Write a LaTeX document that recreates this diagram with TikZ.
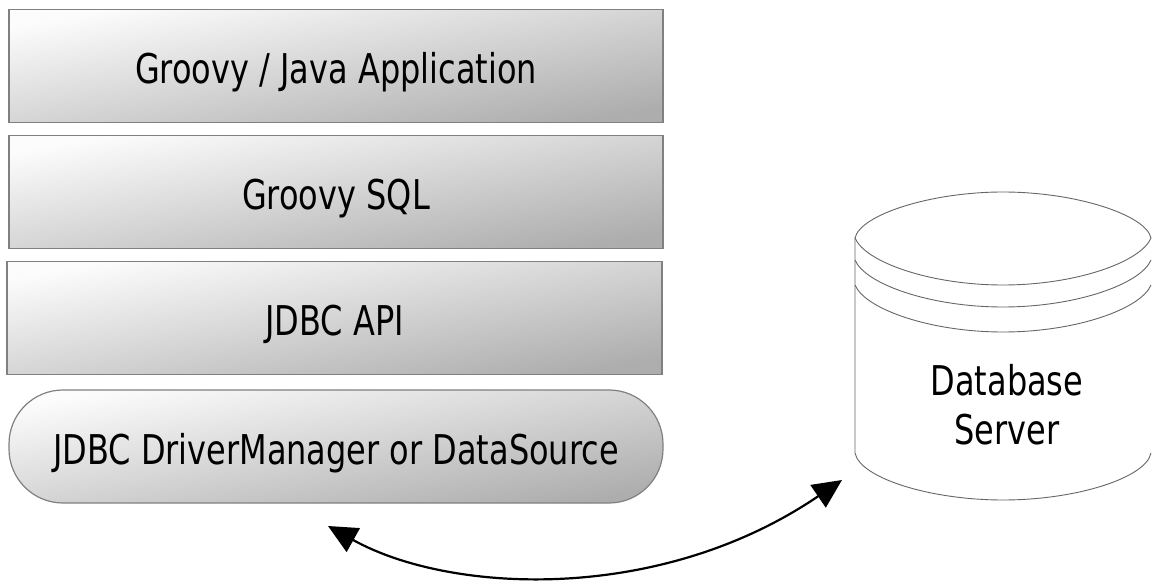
\documentclass[tikz,border=0pt]{standalone}
\usepackage{fontspec}
\setmainfont[FakeStretch=0.78]{DejaVu Sans}
\usetikzlibrary{arrows.meta}
\tikzset{
    layerbox/.style={draw=black!50, line width=1.2pt,
        top color=black!1, bottom color=black!32, shading angle=10, font=\fontsize{41}{44}\selectfont,
        minimum height=113pt, inner sep=0pt, text height=36pt, text depth=0pt, anchor=center},
    dbline/.style={draw=black!60, line width=0.9pt},
    dblabel/.style={font=\fontsize{41}{49}\selectfont, align=center},
    linkarrow/.style={line width=2.2pt, {Triangle[length=29pt,width=27pt]}-{Triangle[length=29pt,width=27pt]}}
}
\begin{document}
\begin{tikzpicture}[x=1pt,y=-1pt]
    \useasboundingbox (0,0) rectangle (1152,585);

    % Stacked layers
    \node[layerbox, minimum width=654pt] (app) at (336,66) {Groovy / Java Application};
    \node[layerbox, minimum width=654pt] (gsql) at (336,192) {Groovy SQL};
    \node[layerbox, minimum width=655pt] (api) at (334.5,318) {JDBC API};
    \node[layerbox, minimum width=654pt, rounded corners=54pt] (driver) at (336,446.5) {JDBC DriverManager or DataSource};

    % Database cylinder
    \draw[dbline] (855,238) .. controls (860,215) and (930,192) .. (1003,192)
        .. controls (1076,192) and (1146,215) .. (1151,238);
    \draw[dbline] (855,238) -- (855,453) .. controls (860,478) and (930,500) .. (1003,500)
        .. controls (1076,500) and (1146,478) .. (1151,453);
    \draw[dbline] (855,238) .. controls (865,262) and (930,285) .. (1003,285)
        .. controls (1076,285) and (1141,262) .. (1151,238);
    \draw[dbline] (855,260) .. controls (865,284) and (930,307) .. (1003,307)
        .. controls (1076,307) and (1141,284) .. (1151,260);
    \draw[dbline] (855,285) .. controls (865,309) and (930,332) .. (1003,332)
        .. controls (1076,332) and (1141,309) .. (1151,285);
    \node[dblabel] (server) at (1007,405) {Database\\Server};

    % Link between driver and server
    \coordinate (linkleft) at (328,526);
    \coordinate (linkright) at (842,480);
    \draw[linkarrow] (linkleft) .. controls (450,594) and (660,604) .. (linkright);
\end{tikzpicture}
\end{document}
